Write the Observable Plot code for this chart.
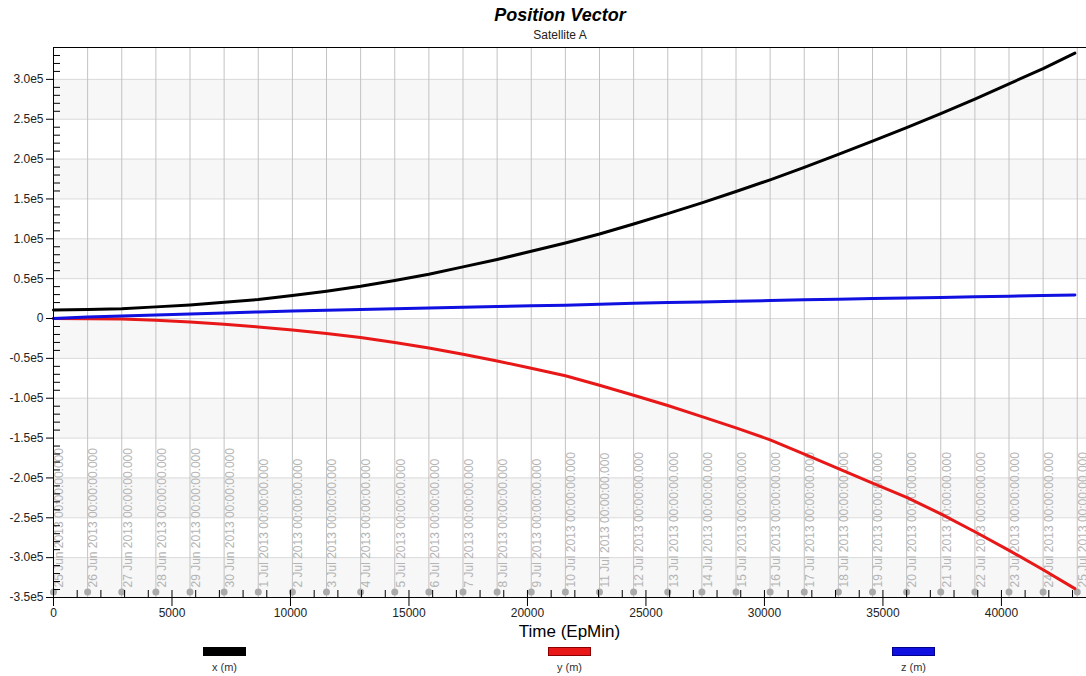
<!DOCTYPE html>
<html>
<head>
<meta charset="utf-8">
<script src="https://cdn.jsdelivr.net/npm/d3@7"></script>
<script src="https://cdn.jsdelivr.net/npm/@observablehq/plot@0.6"></script>
<style>
  body { margin: 0; background: #fff; font-family: "Liberation Sans", Arial, sans-serif; }
  #wrap { position: relative; width: 1086px; height: 676px; overflow: hidden; }
  #title { position: absolute; left: 34px; right: 0; top: 4px; text-align: center;
           font: italic bold 18px "Liberation Sans", Arial, sans-serif; line-height: 22px; color: #000; }
  #subtitle { position: absolute; left: 34px; right: 0; top: 28px; text-align: center;
              font-size: 12px; line-height: 14px; color: #222; }
  #chart { position: absolute; left: 0; top: 42px; }
  #xlabel { position: absolute; left: 53px; right: 0; top: 622px; text-align: center;
            font-size: 17px; line-height: 20px; color: #000; }
  .legend-item { position: absolute; top: 647px; width: 43px; text-align: center; }
  .sw { height: 9px; box-sizing: border-box; border: 1px solid; }
  .lbl { font-size: 11px; line-height: 13px; margin-top: 5px; color: #333; white-space: nowrap; }
</style>
</head>
<body>
<div id="wrap">
  <div id="title">Position Vector</div>
  <div id="subtitle">Satellite A</div>
  <div id="chart"></div>
  <div id="xlabel">Time (EpMin)</div>
  <div id="legend"></div>
</div>
<script>
// Elapsed minutes since epoch 25 Jun 2013 00:00:00 UTC (one sample per day)
const timeMin = [0, 1440, 2880, 4320, 5760, 7200, 8640, 10080, 11520, 12960, 14400,
  15840, 17280, 18720, 20160, 21600, 23040, 24480, 25920, 27360, 28800,
  30240, 31680, 33120, 34560, 36000, 37440, 38880, 40320, 41760, 43100];

// Position components in metres
const posX = [10600, 11300, 12100, 14600, 17100, 20500, 23900, 28900, 34300, 40500, 47700,
  55600, 64800, 74100, 84300, 94800, 106000, 118600, 131600, 145100, 159400,
  174000, 189600, 206000, 222600, 239600, 257000, 275300, 294400, 313600, 333000];
const posY = [0, -200, -700, -2100, -4400, -7200, -10500, -14500, -18800, -23900, -30000,
  -36900, -44800, -53200, -62500, -71800, -83700, -96300, -109200, -123000, -137200,
  -152200, -170000, -188300, -206400, -224500, -245000, -267500, -290900, -315100, -338900];
const posZ = [0, 1800, 3200, 4500, 5800, 7000, 8200, 9300, 10400, 11300, 12200,
  13200, 14200, 15000, 15900, 16700, 18000, 19200, 20000, 20800, 21700,
  22600, 23400, 24200, 25000, 25800, 26500, 27200, 28000, 28800, 29600];

const seriesNames = ["x (m)", "y (m)", "z (m)"];
const seriesColors = ["#000000", "#e81818", "#1010e0"];
const swatchBorders = ["#000000", "#8a0000", "#00008a"];

// Axis ticks
const yMajor = [-350000, -300000, -250000, -200000, -150000, -100000, -50000, 0,
  50000, 100000, 150000, 200000, 250000, 300000];
const xMajor = [0, 5000, 10000, 15000, 20000, 25000, 30000, 35000, 40000];
const epochStart = Date.UTC(2013, 5, 25);
const dayCount = 31;
const minutesPerDay = 1440;

const Y_MIN = -350000, Y_MAX = 340000, X_MAX = 43590;

const yMinor = d3.range(-350000, Y_MAX + 1, 10000).filter(v => v % 50000 !== 0);
const xMinor = d3.range(1000, X_MAX, 1000).filter(v => v % 5000 !== 0);
const fmtDate = d3.utcFormat("%-d %b %Y %H:%M:%S.%L");
const days = d3.range(dayCount).map(d => ({
  t: d * minutesPerDay,
  label: fmtDate(new Date(epochStart + d * minutesPerDay * 60000))
}));
// alternating shaded bands between major y ticks
const bands = yMajor.slice(0, -1).map((v, i) => [v, yMajor[i + 1]]).filter((b, i) => i % 2 === 0);

const rows = [];
[posX, posY, posZ].forEach((vals, s) => vals.forEach((v, i) => rows.push({t: timeMin[i], v, series: seriesNames[s]})));

const fmtY = v => v === 0 ? "0" : (v / 1e5).toFixed(1) + "e5";

const chart = Plot.plot({
  width: 1086,
  height: 578,
  marginLeft: 53,
  marginRight: 0,
  marginTop: 5,
  marginBottom: 23,
  style: {fontFamily: "'Liberation Sans', Arial, sans-serif", fontSize: "12px", color: "#222", background: "transparent"},
  x: {domain: [0, X_MAX]},
  y: {domain: [Y_MIN, Y_MAX]},
  color: {domain: seriesNames, range: seriesColors},
  marks: [
    Plot.rect(bands, {y1: d => d[0], y2: d => d[1], fill: "#f7f7f7"}),
    Plot.ruleY(yMajor, {stroke: "#dadada"}),
    Plot.ruleX(days, {x: "t", stroke: "#c2c2c2"}),
    Plot.text(days, {x: "t", y: () => Y_MIN, text: "label", rotate: -90, textAnchor: "start",
      lineAnchor: "middle", dx: 6, dy: -10, fill: "#b4b4b4", fontSize: 12}),
    Plot.dot(days, {x: "t", y: () => Y_MIN, r: 3.5, fill: "#aaaaaa", dy: -5.5}),
    Plot.line(rows, {x: "t", y: "v", z: "series", stroke: "series", strokeWidth: 3}),
    Plot.ruleX([0], {stroke: "#000"}),
    Plot.ruleY([Y_MIN, Y_MAX], {stroke: "#000"}),
    Plot.axisY({ticks: yMajor, tickSize: 7, tickPadding: 3, tickFormat: fmtY, label: null, stroke: "#000"}),
    Plot.axisY({ticks: yMinor, tickSize: 7, dx: 7, tickFormat: () => "", label: null, stroke: "#000"}),
    Plot.axisX({ticks: xMajor, tickSize: 9, tickPadding: 2, tickFormat: d => String(d), label: null, stroke: "#000"}),
    Plot.axisX({ticks: xMajor, tickSize: 7, dy: -7, tickFormat: () => "", label: null, stroke: "#000"}),
    Plot.axisX({ticks: xMinor, tickSize: 7, dy: -7, tickFormat: () => "", label: null, stroke: "#000"})
  ]
});
document.getElementById("chart").appendChild(chart);

// Legend below the axis title
const legendLeft = [203, 548, 892];
const legend = document.getElementById("legend");
seriesNames.forEach((name, i) => {
  const item = document.createElement("div");
  item.className = "legend-item";
  item.style.left = legendLeft[i] + "px";
  item.innerHTML = `<div class="sw" style="background:${seriesColors[i]};border-color:${swatchBorders[i]}"></div><div class="lbl">${name}</div>`;
  legend.appendChild(item);
});
</script>
</body>
</html>
